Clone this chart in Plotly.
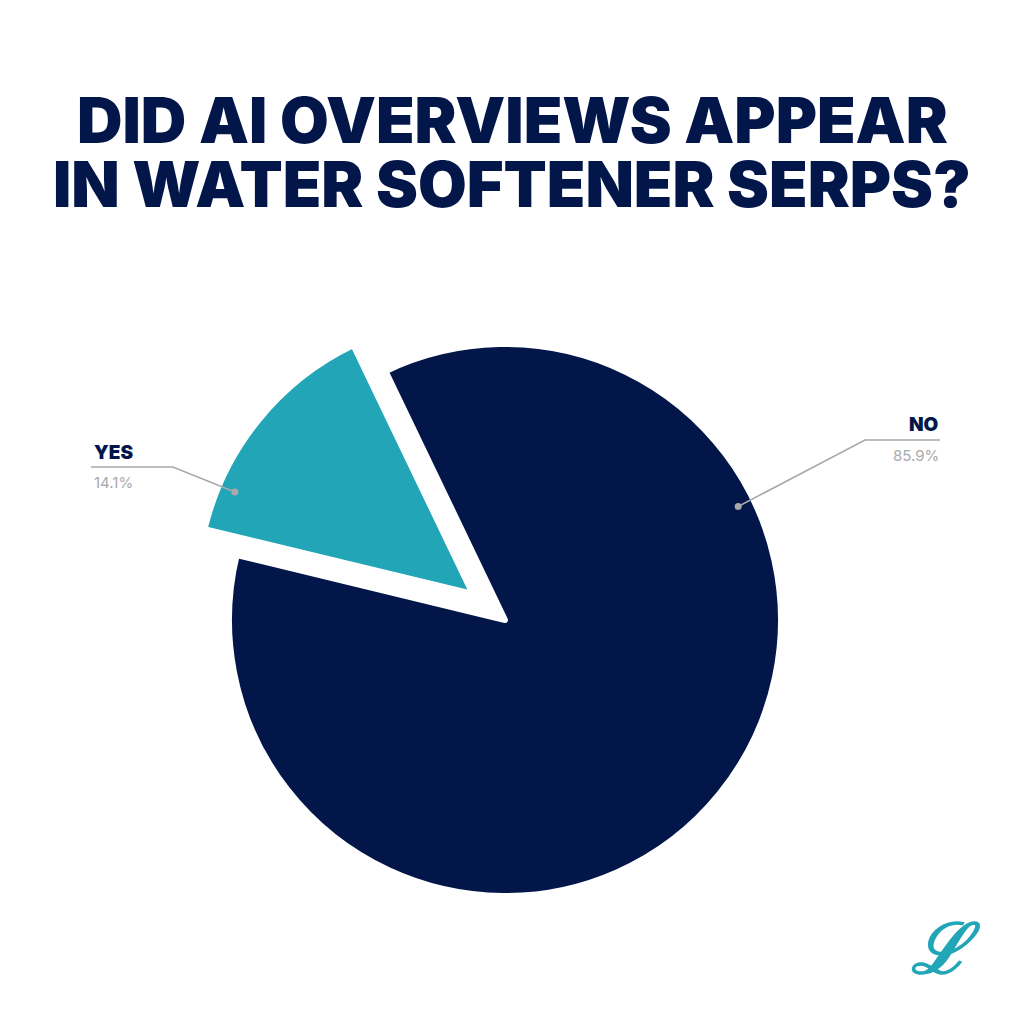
import math
import plotly.graph_objects as go

# ---- data ----
labels = ["YES", "NO"]
values = [14.1, 85.9]
pct_text = ["14.1%", "85.9%"]
colors = ["#21a5b7", "#03164a"]
title_lines = ["DID AI OVERVIEWS APPEAR", "IN WATER SOFTENER SERPS?"]

# ---- layout constants ----
PAGE_OFF = 8          # default body margin of the html page
W = H = 1016          # figure size (fits inside 1024 window with margin)
ROTATION = -76.4
PULL = [0.15, 0.0]
LINE_W = 6
CENTER_PX = (505, 620)   # desired visible pie centre (window pixels)
R_VIS = 273              # desired visible radius (pixels)
NAVY = "#03164a"
GREY = "#a9a9ab"


def px2p(x, y):
    return (x - PAGE_OFF) / W, 1 - (y - PAGE_OFF) / H


r = R_VIS + LINE_W / 2
half_box = r * (1 + max(PULL))
pcx, pcy = px2p(*CENTER_PX)
DOM_X = [pcx - half_box / W, pcx + half_box / W]
DOM_Y = [pcy - half_box / H, pcy + half_box / H]

fig = go.Figure()
fig.add_trace(go.Pie(
    labels=labels, values=values, sort=False, direction="clockwise",
    rotation=ROTATION, pull=PULL, textinfo="none", hoverinfo="label+percent",
    marker=dict(colors=colors, line=dict(color="white", width=LINE_W)),
    domain=dict(x=DOM_X, y=DOM_Y), showlegend=False,
))

cx, cy = CENTER_PX
total = sum(values)
dot_frac = [0.19, 0.29]
dot_rad = [0.95, 0.95]
label_geo = [
    dict(elbow=(173, 467), end=(91, 467), side="left"),
    dict(elbow=(865, 440), end=(940, 440), side="right"),
]

shapes = []
annotations = []
a0 = ROTATION
for i, v in enumerate(values):
    span = v / total * 360
    mid = math.radians(a0 + span / 2)
    scx = cx + PULL[i] * R_VIS * math.sin(mid)
    scy = cy - PULL[i] * R_VIS * math.cos(mid)
    ang = math.radians(a0 + dot_frac[i] * span)
    dx = scx + dot_rad[i] * R_VIS * math.sin(ang)
    dy = scy - dot_rad[i] * R_VIS * math.cos(ang)
    g = label_geo[i]
    pts = [(dx, dy), g["elbow"], g["end"]]
    path = "M " + " L ".join(f"{px2p(x, y)[0]:.5f},{px2p(x, y)[1]:.5f}" for x, y in pts)
    shapes.append(dict(type="path", path=path, xref="paper", yref="paper",
                       line=dict(color=GREY, width=1.6)))
    px_, py_ = px2p(dx, dy)
    shapes.append(dict(type="circle", xref="paper", yref="paper",
                       x0=px_ - 3.5 / W, x1=px_ + 3.5 / W, y0=py_ - 3.5 / H, y1=py_ + 3.5 / H,
                       fillcolor=GREY, line=dict(width=0)))
    ex, ey = g["end"]
    anchor = g["side"]
    shift = 1 if anchor == "left" else 1
    ax, ay = px2p(ex + shift, ey - 15)
    annotations.append(dict(text=labels[i], x=ax, y=ay, xref="paper", yref="paper",
                            xanchor=anchor, yanchor="middle", showarrow=False,
                            font=dict(family="Inter, sans-serif", size=19, color=NAVY, weight=900)))
    ax2, ay2 = px2p(ex + shift, ey + 15)
    annotations.append(dict(text=pct_text[i], x=ax2, y=ay2, xref="paper", yref="paper",
                            xanchor=anchor, yanchor="middle", showarrow=False,
                            font=dict(family="Inter, sans-serif", size=15, color=GREY)))
    a0 += span

# title, one annotation per line
title_y = [120, 184]
for line, ty in zip(title_lines, title_y):
    annotations.append(dict(
        text=line, x=px2p(512, 0)[0], y=px2p(0, ty)[1], xref="paper", yref="paper",
        xanchor="center", yanchor="middle", showarrow=False,
        font=dict(family="Inter, sans-serif", size=63, color=NAVY, weight=900),
    ))
# logo mark
annotations.append(dict(
    text="<b><i>ℒ</i></b>", x=px2p(946, 0)[0], y=px2p(0, 948)[1], xref="paper", yref="paper",
    xanchor="center", yanchor="middle", showarrow=False,
    font=dict(family="DejaVu Serif, serif", size=70, color="#21a5b7"),
))

fig.update_layout(
    width=W, height=H, margin=dict(l=0, r=0, t=0, b=0),
    paper_bgcolor="white", plot_bgcolor="white",
    shapes=shapes, annotations=annotations,
)
fig.write_html("out.html")
